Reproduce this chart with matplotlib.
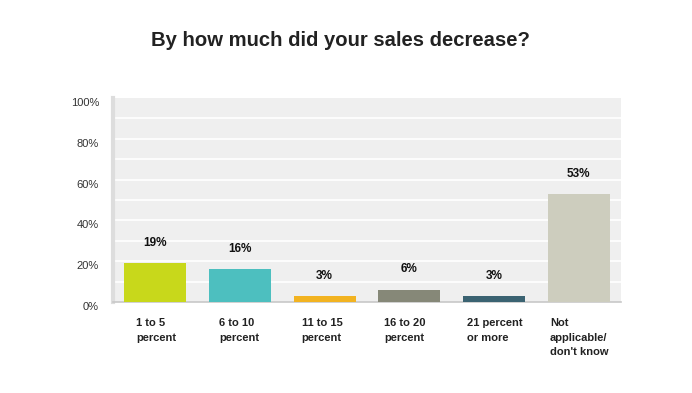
import numpy as np
import matplotlib.pyplot as plt
import matplotlib.transforms as mtransforms

# Chart data
categories = ["1 to 5\npercent", "6 to 10\npercent", "11 to 15\npercent",
              "16 to 20\npercent", "21 percent\nor more", "Not\napplicable/\ndon't know"]
values = [19, 16, 3, 6, 3, 53]
colors = ["#C8D81B", "#4DBFBF", "#F2B321", "#868878", "#3B6372", "#CDCDBE"]
yticks = [0, 20, 40, 60, 80, 100]

plt.rcParams['font.family'] = ['Liberation Sans', 'DejaVu Sans']

fig = plt.figure(figsize=(6.92, 3.93), dpi=100)
ax = fig.add_axes([113 / 692, 1 - 302 / 393, 508 / 692, 204 / 393])
ax.set_facecolor("#EFEFEF")

x = np.arange(len(values))
bar_w = 0.73
ax.bar(x, values, width=bar_w, color=colors, zorder=3)

ax.set_xlim(-0.5, len(values) - 0.5)
ax.set_ylim(0, 100)

# White gridlines every 10%
for g in range(10, 100, 10):
    ax.axhline(g, color="white", lw=1.2, zorder=1)

# Value labels
for xi, v in zip(x, values):
    ax.text(xi, v + 7, f"{v}%", ha="center", va="bottom", fontsize=8.5,
            fontweight="bold", color="#111111")

# Y tick labels, shifted down slightly as in the original
ax.set_yticks(yticks)
ax.set_yticklabels([f"{t}%" for t in yticks], fontsize=8, color="#333333")
ax.tick_params(axis="y", length=0, pad=10)
offset = mtransforms.ScaledTranslation(0, -4 / 100, fig.dpi_scale_trans)
for lbl in ax.get_yticklabels():
    lbl.set_transform(lbl.get_transform() + offset)

# X labels: left-aligned, spaced a little tighter than the bars
ax.set_xticks([])
for xi, c in zip(x, categories):
    ax.text(xi * 0.978 - 0.228, -8, c, ha="left", va="top", fontsize=8,
            fontweight="bold", color="#222222", linespacing=1.55)

for s in ["top", "right"]:
    ax.spines[s].set_visible(False)
ax.spines["left"].set_color("#DDDDDD")
ax.spines["left"].set_linewidth(3)
ax.spines["bottom"].set_color("#C8C8C8")
ax.spines["bottom"].set_linewidth(1.2)

fig.text(340 / 692, 1 - 41 / 393, "By how much did your sales decrease?", ha="center",
         va="center", fontsize=14.6, fontweight="bold", color="#222222")

fig.savefig("out.png", dpi=100, facecolor="white")
